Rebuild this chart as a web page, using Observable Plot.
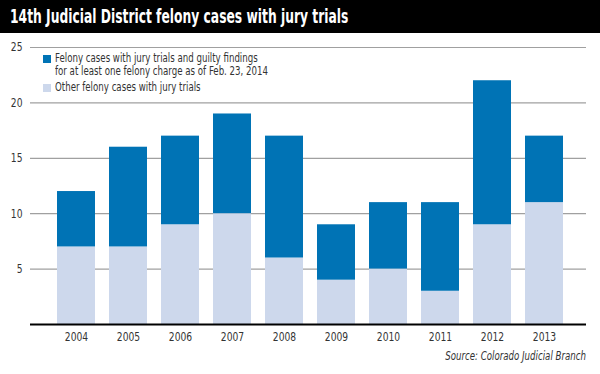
<!DOCTYPE html>
<html>
<head>
<meta charset="utf-8">
<script src="https://cdn.jsdelivr.net/npm/d3@7"></script>
<script src="https://cdn.jsdelivr.net/npm/@observablehq/plot@0.6"></script>
<style>
  html, body { margin: 0; padding: 0; background: #fff; }
  #wrap { position: relative; width: 600px; height: 374px; overflow: hidden; font-family: "DejaVu Sans Condensed", "Liberation Sans", sans-serif; }
  #title { height: 33px; background: #000; }
  #title span { display: inline-block; color: #fff; font-weight: bold; font-size: 19px; line-height: 33px; margin-left: 10px; transform: scaleX(0.72); transform-origin: 0 50%; white-space: nowrap; }
  #legend { position: absolute; left: 43px; top: 52px; font-size: 12px; color: #333; line-height: 13px; }
  #legend .row { position: relative; padding-left: 12px; margin-bottom: 3px; }
  #legend .sw { position: absolute; left: 0; top: 3px; width: 8px; height: 8px; }
  #legend .txt { display: inline-block; transform: scaleX(0.8); transform-origin: 0 50%; white-space: nowrap; }
  #source { position: absolute; right: 14px; top: 349px; font-size: 12px; font-style: italic; color: #333; transform: scaleX(0.8); transform-origin: 100% 50%; white-space: nowrap; }
</style>
</head>
<body>
<div id="wrap">
  <div id="title"><span>14th Judicial District felony cases with jury trials</span></div>
  <div id="chart"></div>
  <div id="legend">
    <div class="row"><span class="sw" style="background:#0073b5"></span><span class="txt">Felony cases with jury trials and guilty findings<br>for at least one felony charge as of Feb. 23, 2014</span></div>
    <div class="row"><span class="sw" style="background:#cdd8ec"></span><span class="txt">Other felony cases with jury trials</span></div>
  </div>
  <div id="source">Source: Colorado Judicial Branch</div>
</div>
<script>
const years = ["2004","2005","2006","2007","2008","2009","2010","2011","2012","2013"];
const other = [7, 7, 9, 10, 6, 4, 5, 3, 9, 11];
const guilty = [5, 9, 8, 9, 11, 5, 6, 8, 13, 6];
const seriesNames = ["Other felony cases with jury trials", "Felony cases with jury trials and guilty findings"];
const yTicks = [5, 10, 15, 20, 25];

const rows = [];
years.forEach((y, i) => {
  rows.push({year: y, series: seriesNames[0], value: other[i]});
  rows.push({year: y, series: seriesNames[1], value: guilty[i]});
});

const chart = Plot.plot({
  width: 600,
  height: 320,
  marginLeft: 30,
  marginRight: 14,
  marginTop: 14,
  marginBottom: 29,
  style: {fontFamily: '"DejaVu Sans Condensed", sans-serif', fontSize: "12px", color: "#333"},
  x: {domain: years, paddingInner: 0.27, paddingOuter: 0.47, align: 0.54, label: null, tickSize: 0, tickPadding: 8},
  y: {domain: [0, 25], ticks: yTicks, label: null, tickSize: 0, tickPadding: 8},
  color: {domain: seriesNames, range: ["#cdd8ec", "#0073b5"]},
  marks: [
    Plot.ruleY(yTicks, {stroke: "#a0a0a0", strokeWidth: 1.2}),
    Plot.barY(rows, Plot.stackY({x: "year", y: "value", fill: "series", order: seriesNames})),
    Plot.ruleY([0], {stroke: "#000", strokeWidth: 2})
  ]
});
document.getElementById("chart").appendChild(chart);
// narrow the tick labels to resemble the condensed typeface
chart.querySelectorAll("g[aria-label$='tick label'] text").forEach(t => {
  const x = +t.getAttribute("x") || 0;
  const tr = t.getAttribute("transform") || "";
  t.setAttribute("transform", tr + ` translate(${x},0) scale(0.85,1) translate(${-x},0)`);
});
</script>
</body>
</html>
